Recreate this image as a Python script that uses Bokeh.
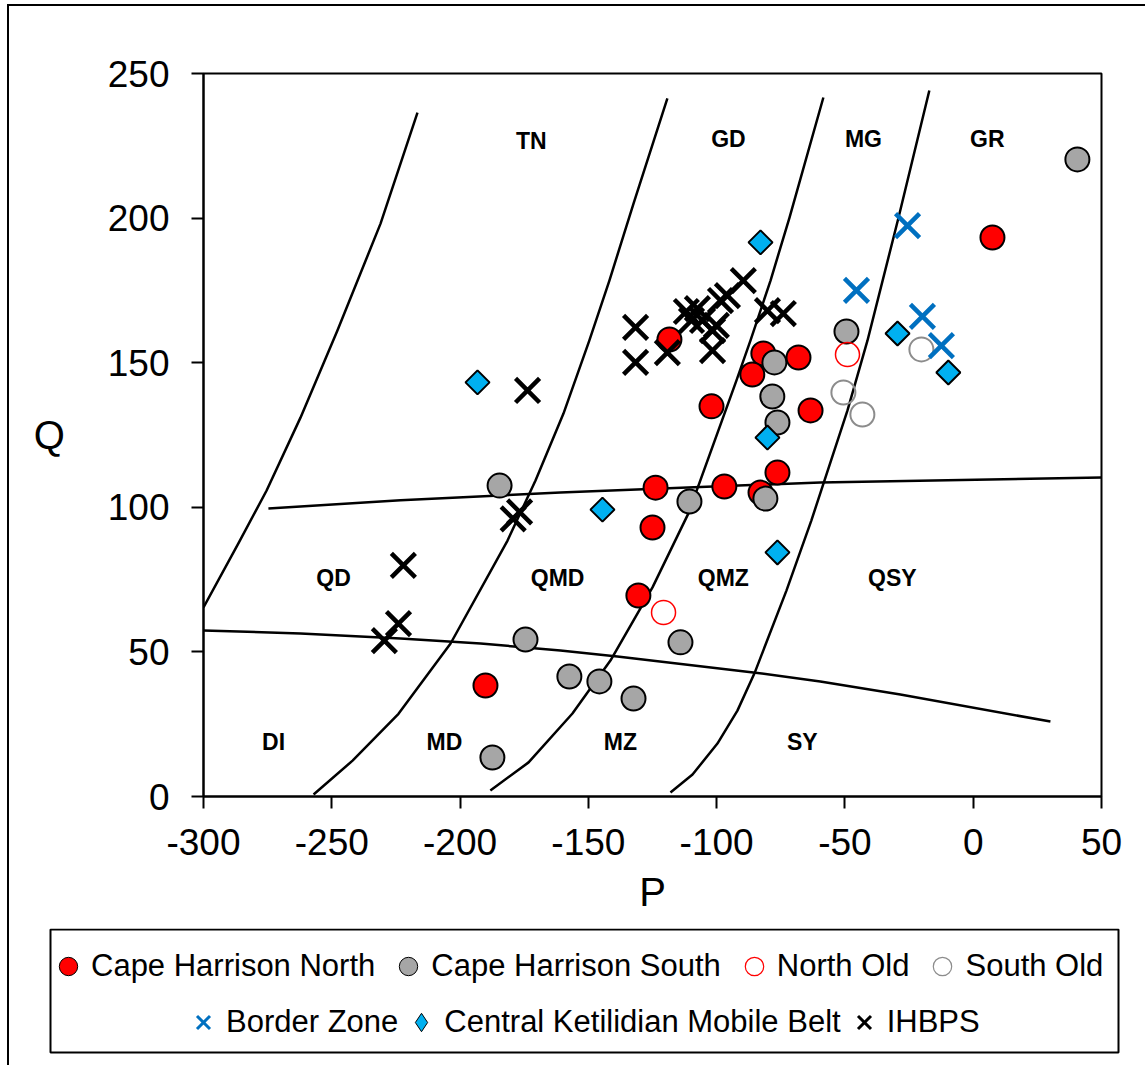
import math
from bokeh.plotting import figure
from bokeh.layouts import column
from bokeh.models import Legend, LegendItem, BoxAnnotation, Range1d, FixedTicker
from bokeh.embed import file_html
from bokeh.resources import INLINE
from bokeh.core.properties import value

FONT = "Liberation Sans"

# ---------------- data ----------------
P_TICKS = [-300, -250, -200, -150, -100, -50, 0, 50]
Q_TICKS = [0, 50, 100, 150, 200, 250]

chn_p = [-118.4, -81.8, -68.1, -86.1, -102.0, -63.4, -76.3, -123.8, -97.0, -82.9, -125.0, -130.5, -190.1, 7.5]
chn_q = [158.0, 153.2, 151.8, 145.9, 134.9, 133.5, 112.0, 106.8, 107.2, 105.1, 93.0, 69.5, 38.4, 193.3]

chs_p = [40.6, -49.4, -77.5, -78.3, -76.3, -81.0, -110.6, -184.6, -174.5, -114.1, -157.4, -145.7, -132.4, -187.4]
chs_q = [220.3, 160.8, 150.1, 138.3, 129.3, 103.0, 102.0, 107.5, 54.3, 53.3, 41.5, 39.8, 33.9, 13.5]

nold_p = [-49.0, -120.7]
nold_q = [152.8, 63.6]

sold_p = [-50.6, -43.2, -20.2]
sold_q = [139.7, 132.1, 154.6]

bz_p = [-25.6, -45.5, -19.8, -12.4]
bz_q = [197.4, 175.0, 166.0, 155.9]

ckmb_p = [-82.9, -193.2, -80.2, -144.5, -76.3, -29.5, -9.7]
ckmb_q = [191.6, 143.2, 124.1, 99.2, 84.4, 160.1, 146.6]

ihbps_p = [-131.6, -131.6, -119.2, -111.8, -109.8, -107.5, -105.5, -101.6, -101.6, -98.5, -95.8,
           -89.6, -80.2, -74.0, -100.1, -173.7, -222.1, -224.0, -229.5, -179.3, -176.8]
ihbps_q = [162.2, 150.1, 153.5, 167.7, 164.6, 168.7, 164.6, 154.2, 161.1, 171.5, 173.2,
           178.4, 168.0, 167.0, 162.9, 140.4, 79.9, 59.8, 53.9, 96.0, 98.4]

# field boundaries
b1_p = [-300.0, -286.4, -275.4, -262.2, -247.8, -231.0, -216.6]
b1_q = [65.4, 87.5, 105.8, 131.0, 161.1, 198.1, 236.5]
b2_p = [-257.1, -241.9, -224.0, -203.7, -181.5, -170.6, -159.7, -149.6, -141.8, -132.4, -119.2]
b2_q = [0.7, 12.4, 28.6, 52.9, 88.5, 109.3, 132.4, 157.7, 178.4, 205.0, 241.4]
b3_p = [-188.2, -173.3, -156.2, -141.4, -125.0, -111.0, -92.3, -86.8, -79.0, -71.6, -58.4]
b3_q = [2.1, 11.8, 28.7, 47.0, 72.3, 97.9, 143.8, 157.7, 178.4, 200.2, 241.7]
b4_p = [-118.0, -109.4, -99.7, -91.9, -85.3, -72.8, -63.1, -49.0, -41.2, -29.1, -17.1]
b4_q = [1.4, 7.6, 18.3, 29.7, 42.5, 71.2, 95.4, 133.5, 157.7, 200.2, 244.1]
h1_p = [-274.7, -223.2, -160.9, -59.6, 50.0]
h1_q = [99.6, 102.4, 105.1, 108.6, 110.3]
h2_p = [-300.0, -262.2, -223.2, -192.0, -160.9, -138.7, -85.7, -59.6, -28.4, 30.1]
h2_q = [57.4, 56.4, 54.6, 52.9, 50.5, 48.4, 42.9, 39.8, 35.3, 25.9]

field_names = ["TN", "GD", "MG", "GR", "QD", "QMD", "QMZ", "QSY", "DI", "MD", "MZ", "SY"]
field_p = [-172.2, -95.4, -42.8, 5.5, -249.3, -162.0, -97.4, -31.5, -272.7, -206.1, -137.5, -66.6]
field_q = [226.5, 227.5, 227.5, 227.5, 75.4, 75.4, 75.4, 75.4, 18.7, 19.0, 19.0, 19.0]

# ---------------- styles ----------------
S_CHN = dict(marker="circle", size=24, fill_color="#FF0000", line_color="black", line_width=2)
S_CHS = dict(marker="circle", size=24, fill_color="#A6A6A6", line_color="black", line_width=2)
S_NOLD = dict(marker="circle", size=24, fill_color=None, line_color="#FF0000", line_width=1.5)
S_SOLD = dict(marker="circle", size=24, fill_color=None, line_color="#8C8C8C", line_width=2)
S_BZ = dict(marker="x", size=34, line_color="#0070C0", line_width=4.5)
S_IH = dict(marker="x", size=34, line_color="black", line_width=4.5)

OX, OY = 9, 6  # content origin inside the outer frame (page pixels)

# ---------------- main figure ----------------
MAIN_H = 922
p = figure(width=1145 - OX, height=MAIN_H, output_backend="svg", toolbar_location=None,
           x_range=Range1d(-300, 50), y_range=Range1d(0, 250),
           min_border_left=203 - OX, min_border_right=44, min_border_top=73 - OY,
           min_border_bottom=MAIN_H - (73 - OY) - 723,
           background_fill_color="white", border_fill_color="white")
p.frame_align = False
p.grid.visible = False
p.outline_line_color = "black"
p.outline_line_width = 2

for ax in (p.xaxis[0], p.yaxis[0]):
    ax.axis_line_color = "black"
    ax.axis_line_width = 2
    ax.major_tick_line_color = "black"
    ax.major_tick_line_width = 2
    ax.major_tick_in = 0
    ax.major_tick_out = 12
    ax.minor_tick_line_color = None
    ax.major_label_text_font = FONT
    ax.major_label_text_font_size = "37px"
    ax.major_label_text_color = "black"
    ax.axis_label_text_font = FONT
    ax.axis_label_text_font_size = "40px"
    ax.axis_label_text_font_style = "normal"
    ax.axis_label_text_color = "black"

p.xaxis.ticker = FixedTicker(ticks=P_TICKS)
p.yaxis.ticker = FixedTicker(ticks=Q_TICKS)
p.xaxis.major_label_overrides = {t: str(t) for t in P_TICKS}
p.yaxis.major_label_overrides = {t: str(t) for t in Q_TICKS}
p.xaxis.axis_label = "P"
p.yaxis.axis_label = "Q"
p.yaxis.axis_label_orientation = "horizontal"
p.xaxis.axis_label_text_align = "right"
p.yaxis.axis_label_text_baseline = "top"
p.xaxis.major_label_standoff = 20
p.yaxis.major_label_standoff = 22
p.xaxis.axis_label_standoff = 12
p.yaxis.axis_label_standoff = 40

for bp, bq in [(b1_p, b1_q), (b2_p, b2_q), (b3_p, b3_q), (b4_p, b4_q), (h1_p, h1_q), (h2_p, h2_q)]:
    p.line(bp, bq, line_color="black", line_width=2.5, line_join="round")

p.text(x=field_p, y=field_q, text=field_names, text_font=value(FONT), text_font_size="23px",
       text_font_style="bold", text_align="center", text_baseline="middle", text_color="black")

p.scatter(chn_p, chn_q, **S_CHN)
p.scatter(chs_p, chs_q, **S_CHS)
p.scatter(nold_p, nold_q, **S_NOLD)
p.scatter(sold_p, sold_q, **S_SOLD)
p.scatter(ckmb_p, ckmb_q, marker="square", size=17, angle=math.pi / 4,
          fill_color="#00B0F0", line_color="black", line_width=2)
p.scatter(bz_p, bz_q, **S_BZ)
p.scatter(ihbps_p, ihbps_q, **S_IH)

# ---------------- legend strip ----------------
TOP = OY + MAIN_H
LEG_H = 1065 - TOP
pl = figure(width=1145 - OX, height=LEG_H, output_backend="svg", toolbar_location=None,
            x_range=Range1d(OX, 1145), y_range=Range1d(1065, TOP),
            x_axis_type=None, y_axis_type=None, min_border=0,
            background_fill_color="white", border_fill_color="white")
pl.frame_align = False
pl.grid.visible = False
pl.outline_line_color = None

NAN = [float("nan")]
g_chn = pl.scatter(NAN, NAN, **dict(S_CHN, line_width=1))
g_chs = pl.scatter(NAN, NAN, **dict(S_CHS, line_width=1))
g_nold = pl.scatter(NAN, NAN, **dict(S_NOLD, line_width=1.2))
g_sold = pl.scatter(NAN, NAN, **dict(S_SOLD, line_width=1.2))
g_bz = pl.scatter(NAN, NAN, **dict(S_BZ, line_width=3))
g_ckmb = pl.scatter(NAN, NAN, marker="diamond", size=24, fill_color="#00B0F0",
                    line_color="black", line_width=1)
g_ih = pl.scatter(NAN, NAN, **dict(S_IH, line_width=3))

pl.add_layout(BoxAnnotation(left=50, right=1118, top=TOP + 1, bottom=1052,
                            fill_alpha=0, line_color="black", line_alpha=1, line_width=2))

GW = 46
common = dict(orientation="horizontal", border_line_alpha=0, background_fill_alpha=0,
              label_text_font=FONT, label_text_font_size="31px", label_text_color="black",
              glyph_width=GW, glyph_height=50, label_standoff=0, padding=0, margin=0)
leg1 = Legend(items=[LegendItem(label="Cape Harrison North", renderers=[g_chn]),
                     LegendItem(label="Cape Harrison South", renderers=[g_chs]),
                     LegendItem(label="North Old", renderers=[g_nold]),
                     LegendItem(label="South Old", renderers=[g_sold])],
              location=(68 - GW // 2 - OX, 1065 - 991), spacing=10, **common)
leg2 = Legend(items=[LegendItem(label="Border Zone", renderers=[g_bz]),
                     LegendItem(label="Central Ketilidian Mobile Belt", renderers=[g_ckmb]),
                     LegendItem(label="IHBPS", renderers=[g_ih])],
              location=(203 - GW // 2 - OX, 1065 - 1047), spacing=0, **common)
pl.add_layout(leg1)
pl.add_layout(leg2)

layout = column(p, pl, spacing=0,
                styles={"margin-left": "7px", "margin-top": "4px",
                        "border-left": "2px solid black", "border-top": "2px solid black"})

open("out.html", "w").write(file_html(layout, INLINE))
